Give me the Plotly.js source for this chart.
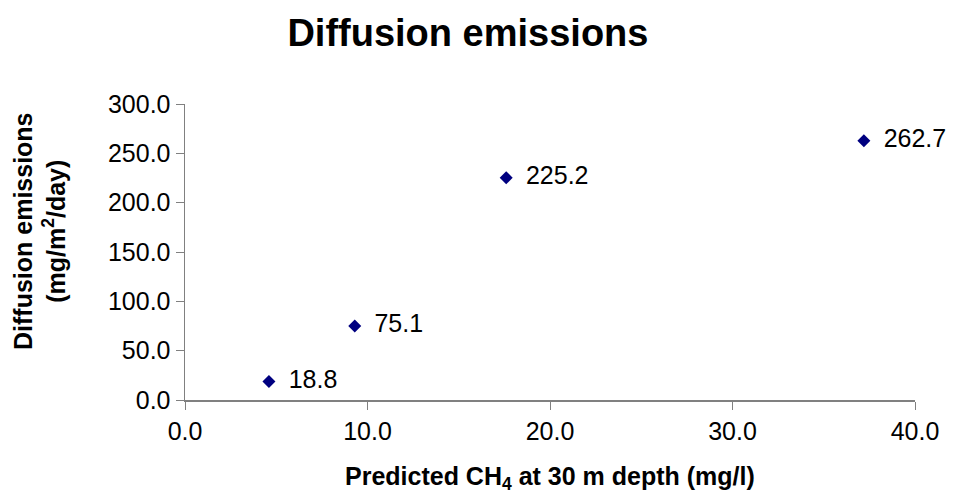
<!DOCTYPE html>
<html><head><meta charset="utf-8">
<script src="https://cdn.plot.ly/plotly-3.0.1.min.js"></script>
<style>html,body{margin:0;padding:0;background:#fff}#chart{width:955px;height:500px}</style>
</head><body><div id="chart"></div>
<script>
const predictedCH4 = [4.6, 9.3, 17.6, 37.2];
const diffusionEmissions = [18.8, 75.1, 225.2, 262.7];
const pointLabels = diffusionEmissions.map(v => '\u2002' + v.toFixed(1));
const xTicks = [0, 10, 20, 30, 40];
const yTicks = [0, 50, 100, 150, 200, 250, 300];

const font = 'Liberation Sans, Arial, sans-serif';
Plotly.newPlot('chart', [{
  x: predictedCH4, y: diffusionEmissions, text: pointLabels,
  type: 'scatter', mode: 'markers+text', textposition: 'middle right',
  marker: {symbol: 'diamond', size: 10, color: '#000080'},
  textfont: {family: font, size: 25, color: '#000'},
  cliponaxis: false, hoverinfo: 'none'
}], {
  width: 955, height: 500,
  margin: {l: 185, r: 40, t: 104, b: 100},
  paper_bgcolor: '#fff', plot_bgcolor: '#fff',
  showlegend: false,
  title: {text: '<b>Diffusion emissions</b>', font: {family: font, size: 38, color: '#000'}, x: 0.49, xanchor: 'center', y: 0.935, yanchor: 'middle'},
  xaxis: {
    range: [0, 40], tickvals: xTicks, ticktext: xTicks.map(v => v.toFixed(1)),
    showgrid: false, zeroline: false, showline: true, linecolor: '#808080', linewidth: 1.5,
    ticks: 'outside', ticklen: 8, tickcolor: '#808080', automargin: false,
    tickfont: {family: font, size: 25, color: '#000'}
  },
  yaxis: {
    range: [0, 300], tickvals: yTicks, ticktext: yTicks.map(v => v.toFixed(1)),
    showgrid: false, zeroline: false, showline: true, linecolor: '#808080', linewidth: 1.5,
    ticks: 'outside', ticklen: 8, tickcolor: '#808080', automargin: false,
    tickfont: {family: font, size: 25, color: '#000'}
  },
  annotations: [
    {text: '<b>Predicted CH<sub>4</sub> at 30 m depth (mg/l)</b>', xref: 'paper', yref: 'paper', x: 0.5, y: -0.265, xanchor: 'center', yanchor: 'middle', showarrow: false, font: {family: font, size: 25, color: '#000'}},
    {text: '<b>Diffusion emissions<br>(mg/m<sup>2</sup>/day)</b>', xref: 'paper', yref: 'paper', x: -0.199, y: 0.57, xanchor: 'center', yanchor: 'middle', textangle: -90, showarrow: false, font: {family: font, size: 25, color: '#000'}}
  ]
}, {staticPlot: true});
</script></body></html>
